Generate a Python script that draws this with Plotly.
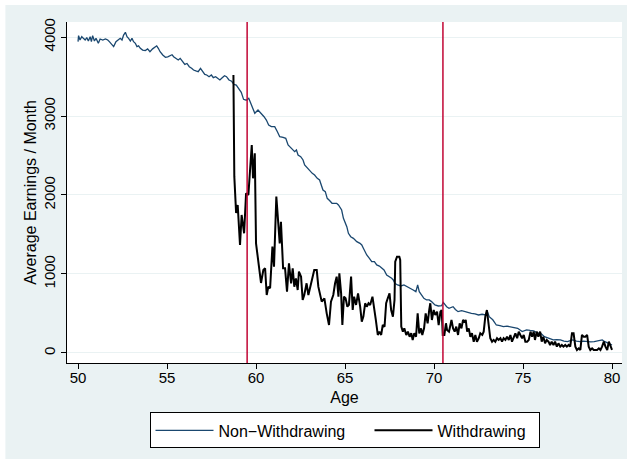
import plotly.graph_objects as go

# Non-withdrawing series (age, average earnings per month)
nonwd_age = [50.00, 50.03, 50.11, 50.21, 50.30, 50.40, 50.49, 50.58, 50.68, 50.75, 50.82, 50.92,
             51.01, 51.14, 51.24, 51.39, 51.54, 51.67, 51.76, 51.89, 52.00, 52.13, 52.26, 52.37,
             52.47, 52.56, 52.66, 52.75, 52.84, 52.94, 53.03, 53.12, 53.22, 53.31, 53.40, 53.50,
             53.63, 53.78, 53.91, 54.04, 54.19, 54.32, 54.42, 54.51, 54.61, 54.76, 54.91, 55.04,
             55.17, 55.28, 55.37, 55.50, 55.63, 55.74, 55.87, 56.00, 56.12, 56.25, 56.38, 56.49,
             56.62, 56.75, 56.88, 56.99, 57.12, 57.23, 57.36, 57.49, 57.60, 57.73, 57.86, 57.97,
             58.10, 58.23, 58.34, 58.48, 58.63, 58.76, 58.89, 59.03, 59.17, 59.30, 59.45, 59.59,
             59.74, 59.93, 60.11, 60.30, 60.45, 60.58, 60.71, 60.86, 61.05, 61.20, 61.33, 61.52,
             61.67, 61.80, 61.99, 62.17, 62.27, 62.36, 62.51, 62.64, 62.73, 62.88, 63.01, 63.16,
             63.29, 63.44, 63.57, 63.67, 63.76, 63.89, 64.00, 64.13, 64.27, 64.42, 64.53, 64.63,
             64.81, 64.91, 65.00, 65.10, 65.19, 65.32, 65.47, 65.66, 65.84, 65.94, 66.03, 66.22,
             66.37, 66.50, 66.65, 66.78, 66.93, 67.06, 67.19, 67.34, 67.49, 67.62, 67.71, 67.80,
             67.95, 68.14, 68.31, 68.50, 68.65, 68.83, 68.98, 69.08, 69.17, 69.30, 69.43, 69.58,
             69.73, 69.86, 70.05, 70.24, 70.43, 70.52, 70.71, 70.84, 71.07, 71.20, 71.35, 71.55,
             71.72, 71.90, 72.10, 72.30, 72.50, 72.70, 72.90, 73.00, 73.10, 73.30, 73.50, 73.70,
             73.90, 74.10, 74.30, 74.50, 74.70, 74.95, 75.20, 75.40, 75.60, 75.80, 76.00, 76.20,
             76.40, 76.55, 76.70, 76.90, 77.10, 77.30, 77.50, 77.65, 77.80, 78.00, 78.20, 78.40,
             78.60, 78.80, 79.00, 79.20, 79.30, 79.45, 79.60, 79.80, 80.00]
nonwd_earn = [3941, 4017, 3962, 4004, 3983, 3962, 3992, 3949, 4004, 3941, 4017, 3949,
              3983, 3920, 3975, 3962, 3975, 3962, 3941, 3899, 3878, 3941, 3962, 3983,
              3962, 4025, 4059, 4004, 3983, 3949, 3983, 3941, 3920, 3878, 3888, 3857,
              3835, 3828, 3850, 3814, 3850, 3878, 3888, 3857, 3814, 3772, 3743, 3750,
              3760, 3776, 3750, 3730, 3709, 3730, 3688, 3654, 3665, 3624, 3604, 3582,
              3570, 3561, 3604, 3561, 3527, 3519, 3498, 3519, 3485, 3498, 3477, 3456,
              3485, 3510, 3498, 3456, 3440, 3401, 3392, 3350, 3300, 3211, 3200, 3224,
              3139, 3034, 3076, 3034, 2991, 2949, 2886, 2865, 2865, 2801, 2738, 2730,
              2717, 2633, 2591, 2548, 2570, 2506, 2485, 2443, 2380, 2338, 2316, 2274,
              2253, 2211, 2190, 2127, 2063, 2042, 1958, 1930, 1895, 1895, 1895, 1873,
              1810, 1705, 1662, 1599, 1515, 1472, 1451, 1409, 1388, 1367, 1325, 1240,
              1198, 1156, 1156, 1114, 1100, 1072, 1050, 987, 966, 945, 924, 882,
              861, 848, 861, 840, 819, 797, 776, 861, 776, 734, 692, 671,
              671, 650, 608, 595, 600, 640, 586, 565, 586, 550, 523, 535,
              523, 515, 502, 495, 481, 490, 481, 523, 460, 420, 354, 345,
              333, 340, 333, 320, 312, 270, 291, 285, 280, 255, 249, 206,
              186, 175, 165, 170, 165, 150, 143, 155, 165, 150, 143, 150,
              143, 140, 143, 155, 165, 165, 143, 122, 101]

# Withdrawing series
wd_age = [58.73, 58.78, 58.88, 58.97, 59.10, 59.19, 59.33, 59.44, 59.57, 59.76, 59.83, 59.93,
          60.00, 60.13, 60.28, 60.41, 60.51, 60.60, 60.69, 60.79, 60.92, 61.01, 61.14, 61.25,
          61.33, 61.40, 61.52, 61.63, 61.74, 61.85, 61.97, 62.06, 62.15, 62.24, 62.34, 62.41,
          62.53, 62.62, 62.71, 62.84, 62.94, 63.05, 63.16, 63.27, 63.41, 63.50, 63.69, 63.84,
          63.97, 64.10, 64.21, 64.34, 64.44, 64.53, 64.63, 64.68, 64.78, 64.85, 64.94, 65.03,
          65.13, 65.22, 65.34, 65.43, 65.51, 65.62, 65.73, 65.85, 65.94, 66.03, 66.13, 66.22,
          66.32, 66.41, 66.54, 66.63, 66.73, 66.84, 66.93, 67.03, 67.12, 67.22, 67.31, 67.40,
          67.50, 67.59, 67.69, 67.78, 67.82, 67.92, 68.05, 68.10, 68.16, 68.25, 68.33, 68.44,
          68.53, 68.63, 68.72, 68.80, 68.89, 68.99, 69.08, 69.17, 69.27, 69.34, 69.44, 69.53,
          69.64, 69.73, 69.79, 69.88, 69.98, 70.07, 70.17, 70.26, 70.36, 70.43, 70.49, 70.58,
          70.67, 70.73, 70.84, 70.98, 71.07, 71.16, 71.25, 71.35, 71.44, 71.54, 71.63, 71.72,
          71.78, 71.86, 71.95, 72.04, 72.13, 72.23, 72.32, 72.41, 72.51, 72.60, 72.71, 72.79,
          72.88, 72.97, 73.07, 73.16, 73.26, 73.35, 73.44, 73.54, 73.63, 73.73, 73.82, 73.91,
          74.01, 74.10, 74.20, 74.29, 74.38, 74.48, 74.57, 74.67, 74.76, 74.85, 74.95, 75.04,
          75.13, 75.23, 75.32, 75.42, 75.51, 75.60, 75.67, 75.77, 75.86, 75.96, 76.05, 76.14,
          76.24, 76.33, 76.43, 76.52, 76.61, 76.71, 76.80, 76.90, 76.99, 77.09, 77.18, 77.27,
          77.37, 77.46, 77.56, 77.65, 77.75, 77.84, 77.94, 78.03, 78.13, 78.22, 78.31, 78.41,
          78.50, 78.60, 78.69, 78.78, 78.88, 78.97, 79.07, 79.16, 79.26, 79.35, 79.44, 79.54,
          79.63, 79.73, 79.82, 79.91, 80.00]
wd_earn = [3519, 2232, 1772, 1873, 1367, 1747, 1515, 2021, 2000, 2633, 2211, 2527,
           1388, 1177, 886, 1050, 1072, 734, 839, 819, 1346, 1093, 1979, 1641,
           1388, 1662, 1072, 1072, 776, 1135, 882, 1072, 839, 945, 797, 1029,
           966, 671, 734, 882, 734, 839, 966, 1050, 1050, 839, 650, 692,
           502, 354, 650, 734, 882, 966, 713, 1008, 755, 354, 713, 692,
           586, 608, 966, 544, 713, 608, 755, 586, 397, 460, 629, 586,
           629, 608, 713, 586, 418, 228, 270, 228, 354, 333, 629, 692,
           755, 544, 460, 671, 1156, 1219, 1219, 1177, 333, 270, 312, 228,
           270, 206, 249, 165, 249, 206, 502, 249, 312, 228, 312, 502,
           376, 544, 629, 418, 544, 481, 523, 354, 523, 544, 228, 228,
           376, 291, 270, 418, 312, 270, 333, 228, 376, 312, 418, 397,
           418, 270, 312, 206, 249, 143, 228, 143, 186, 249, 228, 270,
           460, 544, 376, 186, 143, 165, 143, 186, 165, 186, 143, 186,
           165, 206, 165, 228, 143, 206, 249, 186, 270, 228, 186, 228,
           143, 143, 165, 270, 206, 270, 165, 270, 206, 270, 143, 206,
           122, 165, 143, 101, 143, 101, 143, 80, 122, 80, 101, 80,
           101, 80, 101, 80, 249, 249, 80, 38, 59, 38, 228, 206,
           206, 228, 80, 38, 59, 38, 38, 38, 59, 38, 80, 143,
           80, 38, 143, 80, 38]

ref_ages = [59.5, 70.5]
x_ticks = [50, 55, 60, 65, 70, 75, 80]
y_ticks = [0, 1000, 2000, 3000, 4000]

BG = "rgb(234,242,243)"
FONT = "Liberation Sans, Arial, sans-serif"

fig = go.Figure()
fig.add_trace(go.Scatter(x=nonwd_age, y=nonwd_earn, mode="lines", name="Non\u2212Withdrawing",
                         line=dict(color="#1A476F", width=1.3), legendwidth=146))
fig.add_trace(go.Scatter(x=wd_age, y=wd_earn, mode="lines", name="Withdrawing",
                         line=dict(color="#000000", width=2), legendwidth=96))

# thin white outer frame (paper fractions of the plot domain: 555 x 341 px, origin at 67, 363)
frame = [(-0.1207, 1.018, 1.05, 1.0645),    # top strip
         (-0.1207, 1.018, -0.2962, -0.2815),  # bottom strip
         (-0.1207, -0.111, -0.2962, 1.0645),  # left strip
         (1.009, 1.018, -0.2962, 1.0645)]     # right strip
shapes = []
for x0, x1, y0, y1 in frame:
    shapes.append(dict(type="rect", xref="paper", yref="paper", x0=x0, x1=x1, y0=y0, y1=y1,
                       fillcolor="white", line=dict(width=0), layer="above"))
for a in ref_ages:
    shapes.append(dict(type="line", xref="x", yref="paper", x0=a, x1=a, y0=0, y1=1,
                       line=dict(color="#C10534", width=1.5), layer="above"))

fig.update_layout(
    template="none",
    width=632, height=464,
    margin=dict(l=67, r=10, t=22, b=101),
    paper_bgcolor=BG, plot_bgcolor="rgb(255,255,255)",
    font=dict(family=FONT, size=15, color="black"),
    shapes=shapes,
    showlegend=True,
    legend=dict(orientation="h", x=0.5, xanchor="center", y=-0.145, yanchor="top",
                bgcolor="white", bordercolor="black", borderwidth=1,
                font=dict(size=16), itemwidth=58, traceorder="normal"),
    xaxis=dict(range=[49.38, 80.56], tickvals=x_ticks, ticks="outside", ticklen=5,
               tickcolor="black", showline=True, linecolor="black", linewidth=1,
               showgrid=False, zeroline=False, ticklabelstandoff=-4,
               title=dict(text="Age", font=dict(size=16), standoff=6)),
    yaxis=dict(range=[-127, 4190], tickvals=y_ticks, ticks="outside", ticklen=5,
               tickcolor="black", showline=True, linecolor="black", linewidth=1,
               showgrid=True, gridcolor=BG, gridwidth=1, zeroline=False, tickangle=-90,
               title=dict(text="Average Earnings / Month", font=dict(size=16), standoff=0)),
)

fig.write_html("out.html")
